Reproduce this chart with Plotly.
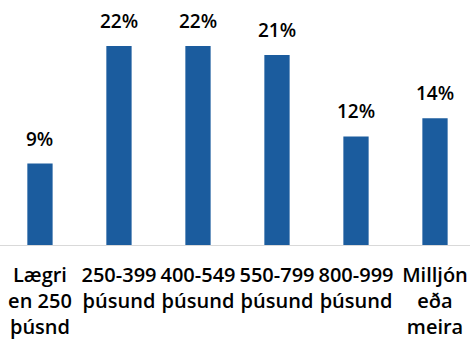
import plotly.graph_objects as go

categories = ["Lægri<br>en 250<br>þúsnd", "250-399<br>þúsund", "400-549<br>þúsund",
              "550-799<br>þúsund", "800-999<br>þúsund", "Milljón<br>eða<br>meira"]
values = [9, 22, 22, 21, 12, 14]
labels = [f"{v}%" for v in values]

xs = list(range(len(categories)))
BAR = "#1B5C9E"
FONT = "Open Sans, Liberation Sans, sans-serif"

fig = go.Figure(go.Bar(x=xs, y=values, marker_color=BAR, marker_line_width=0, width=0.32))

for x, v, t in zip(xs, values, labels):
    fig.add_annotation(x=x, y=v, text=t, showarrow=False, yanchor="bottom", yshift=10,
                       font=dict(family=FONT, size=19, color="#000000", weight=600))

fig.update_layout(
    width=470, height=343,
    margin=dict(l=0, r=0, t=0, b=98),
    paper_bgcolor="white", plot_bgcolor="white",
    showlegend=False,
    xaxis=dict(range=[-0.506, 5.443], tickmode="array", tickvals=xs, ticktext=categories,
               showline=True, linecolor="#D9D9D9", linewidth=1, showgrid=False, ticks="",
               ticklabelstandoff=12,
               tickfont=dict(family=FONT, size=20, color="#000000", weight=600), tickangle=0),
    yaxis=dict(range=[0, 27.07], visible=False, showgrid=False),
)

fig.write_html("out.html")
